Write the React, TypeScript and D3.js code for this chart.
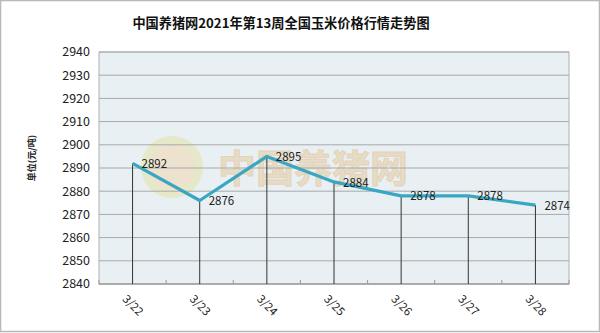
import React from "react";
import * as d3 from "d3";

const categories = ["3/22", "3/23", "3/24", "3/25", "3/26", "3/27", "3/28"];
const values = [2892, 2876, 2895, 2884, 2878, 2878, 2874];
const yTicks = [2840, 2850, 2860, 2870, 2880, 2890, 2900, 2910, 2920, 2930, 2940];
const title = "中国养猪网2021年第13周全国玉米价格行情走势图";
const yLabel = "单位(元/吨)";
const watermark = "中国养猪网";

export default function App() {
  const W = 600, H = 333;
  const left = 99, right = 569, top = 52, bottom = 284;
  const x = d3.scaleBand<string>().domain(categories).range([left, right]).padding(0);
  const y = d3.scaleLinear().domain([2840, 2940]).range([bottom, top]);
  const cx = (c: string) => (x(c) as number) + x.bandwidth() / 2;
  const line = d3.line<number>().x((_, i) => cx(categories[i])).y((v) => y(v));
  const font = "'Microsoft YaHei','Noto Sans CJK SC','DejaVu Sans',sans-serif";
  const boundaries = categories.map((c) => x(c) as number).concat([right]);
  return (
    <svg width={W} height={H} style={{ position: "absolute", left: 0, top: 0 }} fontFamily={font}>
      <rect x={0} y={0} width={W} height={H} fill="#fff" />
      <rect x={0.5} y={0.5} width={W - 1} height={H - 2} fill="none" stroke="#b8b8b8" strokeWidth={1.5} />
      <text x={281} y={28} textAnchor="middle" fontSize={13.2} fontWeight="bold" fill="#111">{title}</text>
      <rect x={left} y={top} width={right - left} height={bottom - top} fill="#e9f0f4" stroke="#b0b0b0" />
      {/* watermark */}
      <g opacity={0.4}>
        <circle cx={172} cy={167} r={31} fill="#e3e08a" />
        <circle cx={172} cy={167} r={23} fill="#f2cf98" />
        <text x={218} y={182} fontSize={38} fontWeight="bold" fill="#dfbf7e" stroke="#e5a560" strokeWidth={1} fontFamily={font}>{watermark}</text>
      </g>
      {yTicks.map((t) => (
        <g key={t}>
          <line x1={left} x2={right} y1={y(t)} y2={y(t)} stroke="#a8a8a8" strokeWidth={1} />
          <text x={90} y={y(t)} dy="0.35em" textAnchor="end" fontSize={12.5} fill="#222">{t}</text>
        </g>
      ))}
      <line x1={left} x2={right} y1={bottom} y2={bottom} stroke="#999" />
      {boundaries.map((b, i) => (
        <line key={i} x1={b} x2={b} y1={bottom - 4} y2={bottom} stroke="#999" />
      ))}
      {values.map((v, i) => (
        <line key={i} x1={cx(categories[i])} x2={cx(categories[i])} y1={y(v)} y2={bottom} stroke="#333" strokeWidth={1} />
      ))}
      <path d={line(values) || ""} fill="none" stroke="#3aa7c2" strokeWidth={3.2} strokeLinejoin="round" />
      {values.map((v, i) => (
        <text key={i} x={cx(categories[i]) + 9} y={y(v)} dy="0.4em" fontSize={11.5} fill="#222">{v}</text>
      ))}
      {categories.map((c) => (
        <text key={c} transform={`translate(${cx(c) - 5},${bottom + 10}) rotate(45)`} fontSize={11.5} fill="#222" dy="0.7em">{c}</text>
      ))}
      <text transform={`translate(35,158) rotate(-90)`} textAnchor="middle" fontSize={9} fontWeight="bold" fill="#222">{yLabel}</text>
    </svg>
  );
}
